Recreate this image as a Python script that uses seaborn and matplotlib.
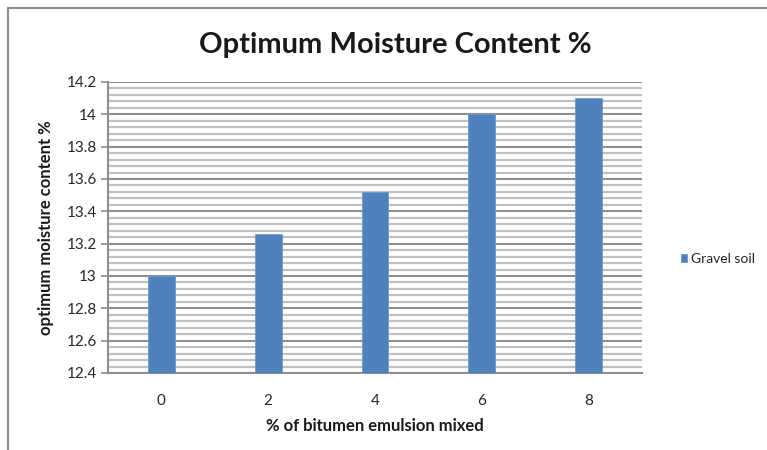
import matplotlib
matplotlib.use("Agg")
import matplotlib.pyplot as plt
import seaborn as sns
import pandas as pd
import numpy as np
from matplotlib.patches import Rectangle
from matplotlib.ticker import MultipleLocator, FuncFormatter

categories = ["0", "2", "4", "6", "8"]
values = [13.0, 13.26, 13.52, 14.0, 14.1]
series_name = "Gravel soil"

title = "Optimum Moisture Content %"
xlabel = "% of bitumen emulsion mixed"
ylabel = "optimum moisture content %"

sns.set_theme(style="white")
plt.rcParams['font.family'] = ['Lato', 'DejaVu Sans']

df = pd.DataFrame({"x": categories, "y": values, "s": [series_name] * len(categories)})

fig = plt.figure(figsize=(7.67, 4.5), dpi=100)
ax = fig.add_axes([108/767, (450-373)/450, (642-108)/767, (373-82)/450])

sns.barplot(data=df, x="x", y="y", hue="s", palette=["#4f81bd"], width=0.25,
            saturation=1, ax=ax, edgecolor="#6f9ad0", linewidth=0.6, zorder=3, legend=True)

ax.set_ylim(12.4, 14.2)
ax.set_xlim(-0.5, len(categories) - 0.5)
ax.yaxis.set_major_locator(MultipleLocator(0.2))
ax.yaxis.set_minor_locator(MultipleLocator(0.04))
ax.yaxis.set_major_formatter(FuncFormatter(lambda v, p: f"{round(v, 2):g}"))

ax.grid(which="major", axis="y", color="#8e8e8e", linewidth=1.5, zorder=1)
ax.grid(which="minor", axis="y", color="#c0c0c0", linewidth=1.6, zorder=1)
ax.set_axisbelow(True)

for s in ["top", "right"]:
    ax.spines[s].set_visible(False)
for s in ["left", "bottom"]:
    ax.spines[s].set_color("#8e8e8e")
    ax.spines[s].set_linewidth(1.5)

ax.tick_params(axis="y", which="major", left=True, length=5, width=1.2, color="#8e8e8e",
               labelsize=11, labelcolor="#262626", pad=3)
ax.tick_params(axis="y", which="minor", left=False)
ax.tick_params(axis="x", bottom=False, labelsize=11, labelcolor="#262626", pad=9)

ax.set_xlabel(xlabel, fontsize=12, fontweight="bold", labelpad=7, color="#1a1a1a")
ax.set_ylabel(ylabel, fontsize=12, fontweight="bold", labelpad=9, color="#1a1a1a")

fig.text(395/767, 1 - 45/450, title, ha="center", va="center", fontsize=21,
         fontweight="bold", color="#1a1a1a")

leg = ax.legend(loc="center left", bbox_to_anchor=(681/767, 1 - 259/450),
                bbox_transform=fig.transFigure, frameon=False, fontsize=10,
                handlelength=0.45, handleheight=0.5, handletextpad=0.3,
                borderpad=0, borderaxespad=0)

fig.patches.append(Rectangle((8/767, -0.1), 2.0, 1 - 8/450 + 0.1, transform=fig.transFigure,
                             fill=False, edgecolor="#8e8e8e", linewidth=1.5))

fig.savefig("out.png", dpi=100)
